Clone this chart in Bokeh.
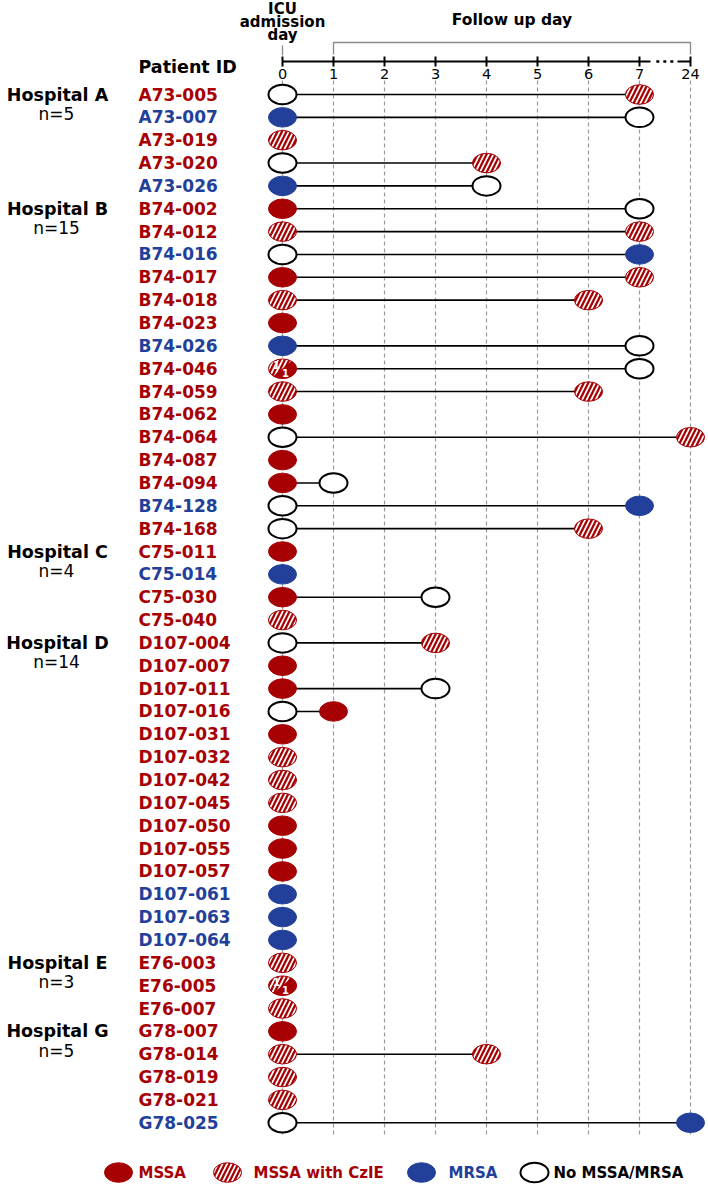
import numpy as np
from bokeh.plotting import figure
from bokeh.models import Range1d, LinearAxis, FixedTicker, ColumnDataSource
from bokeh.core.properties import value
from bokeh.embed import file_html
from bokeh.resources import INLINE

# ---------------- data ----------------
hospitals = ["Hospital A", "Hospital B", "Hospital C", "Hospital D", "Hospital E", "Hospital G"]
hospital_n = [5, 15, 4, 14, 3, 5]

patient_ids = [
    "A73-005", "A73-007", "A73-019", "A73-020", "A73-026",
    "B74-002", "B74-012", "B74-016", "B74-017", "B74-018", "B74-023", "B74-026", "B74-046",
    "B74-059", "B74-062", "B74-064", "B74-087", "B74-094", "B74-128", "B74-168",
    "C75-011", "C75-014", "C75-030", "C75-040",
    "D107-004", "D107-007", "D107-011", "D107-016", "D107-031", "D107-032", "D107-042",
    "D107-045", "D107-050", "D107-055", "D107-057", "D107-061", "D107-063", "D107-064",
    "E76-003", "E76-005", "E76-007",
    "G78-007", "G78-014", "G78-019", "G78-021", "G78-025",
]
patient_type = [
    "MSSA", "MRSA", "MSSA", "MSSA", "MRSA",
    "MSSA", "MSSA", "MRSA", "MSSA", "MSSA", "MSSA", "MRSA", "MSSA",
    "MSSA", "MSSA", "MSSA", "MSSA", "MSSA", "MRSA", "MSSA",
    "MSSA", "MRSA", "MSSA", "MSSA",
    "MSSA", "MSSA", "MSSA", "MSSA", "MSSA", "MSSA", "MSSA",
    "MSSA", "MSSA", "MSSA", "MSSA", "MRSA", "MRSA", "MRSA",
    "MSSA", "MSSA", "MSSA",
    "MSSA", "MSSA", "MSSA", "MSSA", "MRSA",
]
# status codes: O = No MSSA/MRSA, M = MSSA, H = MSSA with CzIE, R = MRSA, S = mixed MSSA / MSSA with CzIE
day0_status = [
    "O", "R", "H", "O", "R",
    "M", "H", "O", "M", "H", "M", "R", "S",
    "H", "M", "O", "M", "M", "O", "O",
    "M", "R", "M", "H",
    "O", "M", "M", "O", "M", "H", "H",
    "H", "M", "M", "M", "R", "R", "R",
    "H", "S", "H",
    "M", "H", "H", "H", "O",
]
followup_day = [
    7, 7, None, 4, 4,
    7, 7, 7, 7, 6, None, 7, 7,
    6, None, 24, None, 1, 7, 6,
    None, None, 3, None,
    3, None, 3, 1, None, None, None,
    None, None, None, None, None, None, None,
    None, None, None,
    None, 4, None, None, 24,
]
followup_status = [
    "H", "O", None, "H", "O",
    "O", "H", "R", "H", "H", None, "O", "O",
    "H", None, "H", None, "O", "R", "H",
    None, None, "O", None,
    "H", None, "O", "M", None, None, None,
    None, None, None, None, None, None, None,
    None, None, None,
    None, "H", None, None, "R",
]
day_ticks = [0, 1, 2, 3, 4, 5, 6, 7, 24]
legend_labels = ["MSSA", "MSSA with CzIE", "MRSA", "No MSSA/MRSA"]
legend_codes = ["M", "H", "R", "O"]

# ---------------- style ----------------
RED = "#A60003"
BLUE = "#22409A"
GRID = "#9a9a9a"
FONT = "DejaVu Sans"
W, H = 706, 1186
PX_X = 51.0        # pixels per day slot
PX_Y = 22.85       # pixels per patient row
X0_PX = 282.0      # page x of day 0
Y0_PX = 94.0       # page y of first row
MW, MH = 28, 19.5  # marker size (screen px)


def rx(px):
    return (px - X0_PX) / PX_X


def ry(px):
    return (px - Y0_PX) / PX_Y


pos_of_day = {d: i for i, d in enumerate(day_ticks)}

p = figure(width=W, height=H, output_backend="svg", toolbar_location=None,
           x_range=Range1d(rx(0), rx(W)), y_range=Range1d(ry(H), ry(0)),
           x_axis_location=None, y_axis_location=None, min_border=0,
           outline_line_color=None, background_fill_color="white",
           border_fill_color="white")
p.xgrid.visible = False
p.ygrid.visible = False

rows = list(range(len(patient_ids)))

# dashed day guides
grid_x = [pos_of_day[d] for d in day_ticks]
p.segment(x0=grid_x, y0=[ry(80)] * len(grid_x), x1=grid_x, y1=[ry(1137)] * len(grid_x),
          line_color=GRID, line_width=1.2, line_dash="4 3")

# follow-up connection lines
cx1, cy = [], []
for i in rows:
    if followup_day[i] is not None:
        cx1.append(pos_of_day[followup_day[i]])
        cy.append(i)
p.segment(x0=[0] * len(cy), y0=cy, x1=cx1, y1=cy, line_color="black", line_width=1.6)

# markers
pts = {"O": ([], []), "M": ([], []), "H": ([], []), "R": ([], []), "S": ([], [])}
for i in rows:
    pts[day0_status[i]][0].append(0)
    pts[day0_status[i]][1].append(i)
    if followup_day[i] is not None:
        pts[followup_status[i]][0].append(pos_of_day[followup_day[i]])
        pts[followup_status[i]][1].append(i)

ek = dict(width=MW, height=MH, width_units="screen", height_units="screen")


def draw_marker(x, y, code):
    if code == "O":
        p.ellipse(x=x, y=y, fill_color="white", line_color="black", line_width=2, **ek)
    elif code == "M":
        p.ellipse(x=x, y=y, fill_color=RED, line_color=RED, line_width=1, **ek)
    elif code == "R":
        p.ellipse(x=x, y=y, fill_color=BLUE, line_color=BLUE, line_width=1, **ek)
    elif code in ("H", "S"):
        p.ellipse(x=x, y=y, fill_color=RED, line_color=RED, line_width=1,
                  hatch_pattern="/", hatch_color="white", hatch_weight=1.7,
                  hatch_scale=9, **ek)


for code in ["O", "M", "R", "H", "S"]:
    if pts[code][0]:
        draw_marker(pts[code][0], pts[code][1], code)

# split markers: lower-right half solid MSSA, with "1" labels
sx, sy = pts["S"]
a = (MW / 2) / PX_X
b = (MH / 2) / PX_Y
t = np.radians(np.linspace(-130, 50, 40))
xs = [list(x + a * np.cos(t)) for x in sx]
ys = [list(y - b * np.sin(t)) for y in sy]
p.patches(xs=xs, ys=ys, fill_color=RED, line_color=RED, line_width=0.5)
p.text(x=sx + sx, y=sy + sy, text=["1"] * (2 * len(sx)),
       x_offset=[-6] * len(sx) + [3] * len(sx), y_offset=[-4] * len(sx) + [4] * len(sx),
       text_color="white", text_font=value(FONT), text_font_size="10px",
       text_font_style="bold", text_align="center", text_baseline="middle")

# patient id labels
lab_src = ColumnDataSource(dict(
    x=[rx(138)] * len(rows), y=rows, text=patient_ids,
    color=[RED if t_ == "MSSA" else BLUE for t_ in patient_type]))
p.text(x="x", y="y", text="text", text_color="color", source=lab_src,
       text_font=value(FONT), text_font_size="17px", text_font_style="bold",
       text_align="left", text_baseline="middle")

# hospital labels
starts = list(np.cumsum([0] + hospital_n[:-1]))
p.text(x=[rx(57)] * len(hospitals), y=starts, text=hospitals,
       text_font=value(FONT), text_font_size="17.5px", text_font_style="bold",
       text_color="black", text_align="center", text_baseline="middle")
p.text(x=[rx(56)] * len(hospitals), y=[s + 0.85 for s in starts],
       text=["n=%d" % n for n in hospital_n],
       text_font=value(FONT), text_font_size="17px",
       text_color="black", text_align="center", text_baseline="middle")

# day axis (two pieces, with a break before day 24)
ax_y = ry(61)
ax1 = LinearAxis(fixed_location=ax_y, ticker=FixedTicker(ticks=grid_x[:-1]),
                 bounds=(0, 7.22))
ax2 = LinearAxis(fixed_location=ax_y, ticker=FixedTicker(ticks=[grid_x[-1]]),
                 bounds=(7.75, grid_x[-1]),
                 major_label_overrides={grid_x[-1]: str(day_ticks[-1])})
for ax in (ax1, ax2):
    ax.axis_line_width = 2
    ax.axis_line_color = "black"
    ax.major_tick_in = 5
    ax.major_tick_out = 5
    ax.major_tick_line_width = 2
    ax.minor_tick_line_color = None
    ax.major_label_standoff = 2
    ax.major_label_text_font = FONT
    ax.major_label_text_font_size = "14.5px"
    ax.major_label_text_color = "black"
    p.add_layout(ax, "below")

p.segment(x0=[7.33], y0=[ax_y], x1=[7.68], y1=[ax_y], line_color="black",
          line_width=2.5, line_dash="3 4")

# header bracket and labels
p.line(x=[1, 1, grid_x[-1], grid_x[-1]], y=[ry(54), ry(42), ry(42), ry(54)],
       line_color="#8a8a8a", line_width=1.3)
p.segment(x0=[0], y0=[ry(45)], x1=[0], y1=[ry(55)], line_color="#8a8a8a", line_width=1.3)
p.text(x=[0, 0, 0], y=[ry(8), ry(21), ry(34)], text=["ICU", "admission", "day"],
       text_font=value(FONT), text_font_size="15px", text_font_style="bold",
       text_color="black", text_align="center", text_baseline="middle")
p.text(x=[(1 + grid_x[-1]) / 2], y=[ry(19)], text=["Follow up day"],
       text_font=value(FONT), text_font_size="15.5px", text_font_style="bold",
       text_color="black", text_align="center", text_baseline="middle")
p.text(x=[rx(138)], y=[ry(66)], text=["Patient ID"],
       text_font=value(FONT), text_font_size="17.5px", text_font_style="bold",
       text_color="black", text_align="left", text_baseline="middle")

# legend
leg_y = ry(1172)
leg_mark_px = [118, 227, 421, 534]
leg_text_px = [138, 253, 448, 553]
leg_colors = [RED, RED, BLUE, "black"]
for code, mx in zip(legend_codes, leg_mark_px):
    draw_marker([rx(mx)], [leg_y], code)
p.text(x=[rx(v) for v in leg_text_px], y=[leg_y] * 4, text=legend_labels,
       text_color=leg_colors, text_font=value(FONT), text_font_size="15px",
       text_font_style="bold", text_align="left", text_baseline="middle")

open("out.html", "w").write(file_html(p, INLINE))
